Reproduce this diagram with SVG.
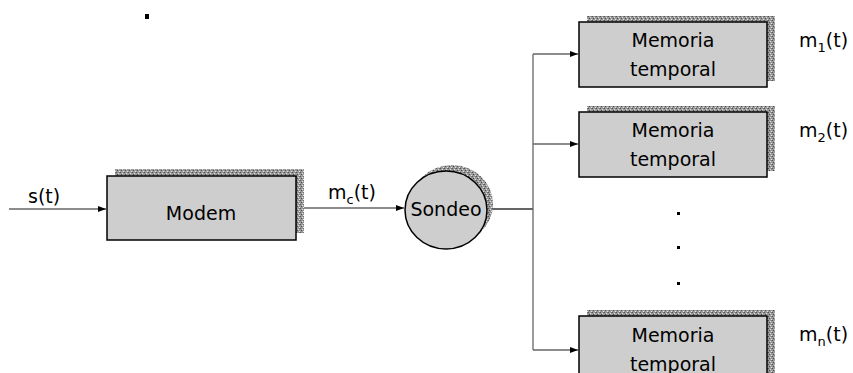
<svg xmlns="http://www.w3.org/2000/svg" width="853" height="373" viewBox="0 0 853 373">
<defs>
<pattern id="tex" width="4" height="4" patternUnits="userSpaceOnUse">
<rect width="4" height="4" fill="#9a9a9a"/>
<rect x="0" y="0" width="1" height="1" fill="#555"/>
<rect x="2" y="1" width="1" height="1" fill="#dcdcdc"/>
<rect x="1" y="2" width="1" height="1" fill="#4a4a4a"/>
<rect x="3" y="3" width="1" height="1" fill="#e6e6e6"/>
<rect x="3" y="0" width="1" height="1" fill="#777"/>
</pattern>
<marker id="arr" markerWidth="8" markerHeight="6" refX="8" refY="3" orient="auto" markerUnits="userSpaceOnUse">
<path d="M0,0 L8,3 L0,6 Z" fill="#000"/>
</marker>
</defs>
<style>
.box{fill:#cecece;stroke:#000;stroke-width:1.5}
.sh{fill:url(#tex)}
.t{font-family:"DejaVu Sans",Verdana,sans-serif;font-size:19px;fill:#000}
.c{text-anchor:middle}
.ln{fill:none;stroke:#666;stroke-width:1.3}
.sub{font-size:13px}
</style>
<rect x="145" y="14" width="4" height="5" fill="#000"/>
<g id="connectors">
<line class="ln" x1="9" y1="209" x2="106" y2="209" marker-end="url(#arr)"/>
<line class="ln" x1="297" y1="208" x2="404" y2="208" marker-end="url(#arr)"/>
<line x1="487" y1="209" x2="533" y2="209" stroke="#333" stroke-width="1.5"/>
<line class="ln" x1="533" y1="54" x2="533" y2="350"/>
<polyline class="ln" points="533,54 578,54" marker-end="url(#arr)"/>
<polyline class="ln" points="533,144 578,144" marker-end="url(#arr)"/>
<polyline class="ln" points="533,350 578,350" marker-end="url(#arr)"/>
</g>
<g id="label-s">
<text class="t" x="28" y="203">s(t)</text>
</g>
<g id="modem">
<rect class="sh" x="115" y="169" width="189" height="64"/>
<rect class="box" x="107" y="176" width="189" height="64"/>
<text class="t c" x="201" y="220">Modem</text>
</g>
<g id="label-mc">
<text class="t" x="328" y="199">m<tspan class="sub" dy="5">c</tspan><tspan dy="-5">(t)</tspan></text>
</g>
<g id="sondeo">
<ellipse class="sh" cx="452" cy="204" rx="41" ry="39"/>
<ellipse cx="446" cy="210" rx="41" ry="39" fill="#cecece" stroke="#000" stroke-width="1.5"/>
<text class="t c" x="446" y="216">Sondeo</text>
</g>
<g id="mem1">
<rect class="sh" x="587" y="16" width="188" height="65"/>
<rect class="box" x="579" y="22" width="188" height="65"/>
<text class="t c" x="673" y="47">Memoria</text>
<text class="t c" x="673" y="76">temporal</text>
</g>
<g id="mem2">
<rect class="sh" x="587" y="106" width="188" height="65"/>
<rect class="box" x="579" y="112" width="188" height="65"/>
<text class="t c" x="673" y="137">Memoria</text>
<text class="t c" x="673" y="166">temporal</text>
</g>
<g id="memn">
<rect class="sh" x="587" y="310" width="188" height="65"/>
<rect class="box" x="579" y="316" width="188" height="65"/>
<text class="t c" x="673" y="342">Memoria</text>
<text class="t c" x="673" y="371">temporal</text>
</g>
<g id="labels-m">
<text class="t" x="799" y="47">m<tspan class="sub" dy="5">1</tspan><tspan dy="-5">(t)</tspan></text>
<text class="t" x="799" y="137">m<tspan class="sub" dy="5">2</tspan><tspan dy="-5">(t)</tspan></text>
<text class="t" x="799" y="341">m<tspan class="sub" dy="5">n</tspan><tspan dy="-5">(t)</tspan></text>
</g>
<g id="dots" fill="#000">
<rect x="677" y="212" width="3" height="3"/>
<rect x="677" y="246" width="3" height="3"/>
<rect x="677" y="282" width="3" height="3"/>
</g>
</svg>
